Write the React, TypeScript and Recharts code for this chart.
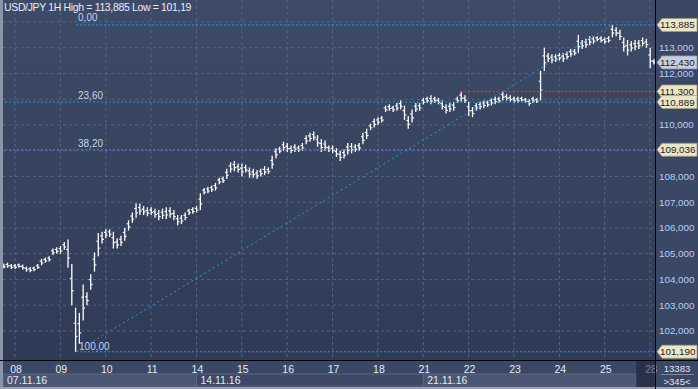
import React from 'react';
import {
  ComposedChart,
  Bar,
  XAxis,
  YAxis,
  CartesianGrid,
  ReferenceLine,
} from 'recharts';

// USD/JPY 1H, 2-hour buckets, low / high
// first three bars are the evening of 07.11, then 12 bars a day
const lows = [
  104.42, 104.45, 104.40,
  // 08
  104.40, 104.45, 104.38, 104.30, 104.28, 104.32, 104.40, 104.55, 104.65, 104.70, 104.95, 105.00,
  // 09
  105.00, 105.15, 104.45, 103.00, 101.19, 101.50, 102.40, 103.00, 103.60, 104.30, 104.90, 105.40,
  // 10
  105.60, 105.65, 105.20, 105.20, 105.30, 105.50, 105.90, 106.20, 106.40, 106.50, 106.50, 106.45,
  // 11
  106.50, 106.40, 106.30, 106.35, 106.35, 106.40, 106.30, 106.10, 106.15, 106.30, 106.50, 106.55,
  // 14
  106.60, 106.70, 107.30, 107.35, 107.40, 107.45, 107.70, 107.75, 107.90, 108.15, 108.20, 108.15,
  // 15
  108.00, 108.15, 107.95, 107.95, 107.90, 108.00, 108.05, 108.10, 108.30, 108.70, 108.90, 109.00,
  // 16
  108.95, 108.90, 108.95, 108.95, 109.00, 109.25, 109.35, 109.40, 109.15, 108.95, 109.00, 108.95,
  // 17
  108.90, 108.75, 108.60, 108.70, 108.85, 108.90, 108.95, 109.00, 109.25, 109.45, 109.80, 109.90,
  // 18
  110.00, 110.10, 110.50, 110.55, 110.50, 110.55, 110.60, 110.20, 109.85, 110.10, 110.50, 110.55,
  // 21
  110.80, 110.85, 110.80, 110.85, 110.80, 110.60, 110.45, 110.50, 110.55, 110.85, 110.90, 110.85,
  // 22
  110.35, 110.30, 110.55, 110.60, 110.65, 110.70, 110.75, 110.80, 110.85, 110.95, 110.95, 110.90,
  // 23
  110.85, 110.85, 110.90, 110.85, 110.75, 110.85, 110.85, 110.95, 112.10, 112.45, 112.40, 112.45,
  // 24
  112.50, 112.45, 112.55, 112.65, 112.70, 112.80, 112.95, 113.00, 113.10, 113.15, 113.25, 113.20,
  // 25
  113.15, 113.20, 113.40, 113.45, 113.30, 112.85, 112.70, 112.85, 112.90, 112.95, 113.05, 113.00,
  // 28
  112.20, 112.35,
];

const highs = [
  104.62, 104.65, 104.60,
  // 08
  104.60, 104.62, 104.58, 104.50, 104.48, 104.50, 104.60, 104.80, 104.85, 104.90, 105.20, 105.25,
  // 09
  105.30, 105.45, 105.55, 104.60, 102.90, 102.70, 103.80, 103.50, 104.20, 105.05, 105.80, 105.85,
  // 10
  105.95, 105.95, 105.85, 105.60, 105.70, 106.00, 106.30, 106.60, 106.95, 106.95, 106.85, 106.80,
  // 11
  106.80, 106.75, 106.70, 106.75, 106.80, 106.80, 106.70, 106.50, 106.50, 106.60, 106.75, 106.80,
  // 14
  106.85, 107.35, 107.55, 107.60, 107.65, 107.75, 107.95, 108.00, 108.30, 108.55, 108.60, 108.50,
  // 15
  108.50, 108.45, 108.35, 108.30, 108.25, 108.30, 108.40, 108.35, 108.80, 109.10, 109.15, 109.35,
  // 16
  109.30, 109.20, 109.25, 109.20, 109.30, 109.60, 109.70, 109.75, 109.60, 109.45, 109.40, 109.20,
  // 17
  109.20, 109.10, 109.00, 109.05, 109.30, 109.30, 109.25, 109.30, 109.70, 109.85, 110.05, 110.25,
  // 18
  110.30, 110.35, 110.75, 110.80, 110.75, 110.85, 110.95, 110.75, 110.35, 110.60, 110.85, 110.85,
  // 21
  111.05, 111.10, 111.15, 111.10, 111.05, 110.95, 110.80, 110.85, 110.90, 111.10, 111.30, 111.15,
  // 22
  110.90, 110.70, 110.85, 110.90, 110.95, 110.95, 111.05, 111.10, 111.10, 111.30, 111.20, 111.15,
  // 23
  111.10, 111.10, 111.10, 111.05, 111.00, 111.10, 111.05, 112.10, 113.00, 112.80, 112.75, 112.75,
  // 24
  112.80, 112.80, 112.85, 112.95, 112.95, 113.50, 113.30, 113.35, 113.45, 113.45, 113.45, 113.45,
  // 25
  113.40, 113.45, 113.885, 113.80, 113.70, 113.40, 113.30, 113.25, 113.30, 113.30, 113.40, 113.35,
  // 28
  113.00, 112.55,
];

// trading hours counted from the 08 day tick (weekends skipped)
const hours = lows.map((_, i) => -6 + i * 2);

const dayTicks = [0, 24, 48, 72, 96, 120, 144, 168, 192, 216, 240, 264, 288, 312, 336];
const dayLabels = ['08', '09', '10', '11', '14', '15', '16', '17', '18', '21', '22', '23', '24', '25', '28'];

const weeks = [
  { start: -6.35, end: 96, label: '07.11.16', fill: '#4a5673' },
  { start: 96, end: 216, label: '14.11.16', fill: '#3c4865' },
  { start: 216, end: 328.6, label: '21.11.16', fill: '#4a5673' },
];

const priceTicks = [102, 103, 104, 105, 106, 107, 108, 110, 112, 113];
const gridPrices = [102, 103, 104, 105, 106, 107, 108, 109, 110, 111, 112, 113, 114];

const high = 113.885;
const low = 101.19;
const last = 112.43;
const redLevel = 111.3;
const fib236 = 110.889;
const fib382 = 109.036;
const tagValues = [high, last, redLevel, fib236, fib382, low];

const fibStartHour = 32.3;
const peakHour = 315.8;
const redStartHour = 235.8;

const X_DOMAIN = [-6.35, 338.6];
const Y_DOMAIN = [100.87, 114.854];
const PLOT_LEFT = 3;
const PLOT_RIGHT = 655;
const PLOT_BOTTOM = 360;
const PX_PER_HOUR = (PLOT_RIGHT - PLOT_LEFT) / (X_DOMAIN[1] - X_DOMAIN[0]);

const FONT = '"Liberation Sans", Arial, sans-serif';
const FIB_BLUE = '#1f9be0';

const data = hours.map((h, i) => ({ h, range: [lows[i], highs[i]] }));

function fmt(v: number) {
  return v.toFixed(3).replace('.', ',');
}

function OhlcShape(props: any) {
  const { x, y, width, height } = props;
  if (x == null || y == null) return null;
  const cx = x + width / 2;
  const h = Math.max(height, 2);
  return (
    <g>
      <line x1={cx} x2={cx} y1={y} y2={y + h} stroke="#ffffff" strokeWidth={1.3} />
      <line x1={cx - 1.9} x2={cx} y1={y + h * 0.35} y2={y + h * 0.35} stroke="#ffffff" strokeWidth={1.1} />
      <line x1={cx} x2={cx + 1.9} y1={y + h * 0.65} y2={y + h * 0.65} stroke="#ffffff" strokeWidth={1.1} />
    </g>
  );
}

function DayTick(props: any) {
  const { x, payload } = props;
  const v = payload.value;
  const week = weeks.find((w) => w.start === v);
  const idx = dayTicks.indexOf(v);
  return (
    <g>
      {week && (
        <g>
          <rect
            x={x}
            y={PLOT_BOTTOM + 14}
            width={(week.end - week.start) * PX_PER_HOUR}
            height={12}
            fill={week.fill}
            stroke="#5a6784"
            strokeWidth={1}
          />
          <text x={x + 4} y={PLOT_BOTTOM + 24} fill="#e4eaf4" fontSize={10.5} fontFamily={FONT}>
            {week.label}
          </text>
        </g>
      )}
      {idx >= 0 && (
        <text x={x + 1} y={PLOT_BOTTOM + 12.5} fill="#e4eaf4" fontSize={10.5} fontFamily={FONT} textAnchor="middle">
          {dayLabels[idx]}
        </text>
      )}
    </g>
  );
}

function PriceTick(props: any) {
  const { y, payload } = props;
  const v = payload.value;
  if (tagValues.includes(v)) {
    const isLast = v === last;
    return (
      <g>
        <polygon
          points={`${PLOT_RIGHT + 2},${y} ${PLOT_RIGHT + 7},${y - 6.5} ${PLOT_RIGHT + 42},${y - 6.5} ${PLOT_RIGHT + 42},${y + 6.5} ${PLOT_RIGHT + 7},${y + 6.5}`}
          fill={isLast ? '#c6cddd' : '#ebe6c6'}
          stroke={isLast ? '#8e97ab' : '#a09c80'}
          strokeWidth={0.8}
        />
        <text x={PLOT_RIGHT + 5} y={y + 3.5} fill="#1c1c1c" fontSize={9.8} fontFamily={FONT}>
          {fmt(v)}
        </text>
      </g>
    );
  }
  return (
    <text x={PLOT_RIGHT + 4} y={y + 3.5} fill="#b6d0f0" fontSize={9.8} fontFamily={FONT}>
      {fmt(v)}
    </text>
  );
}

function FibLabel(props: any) {
  const { viewBox, text, dx, dy } = props;
  if (!viewBox) return null;
  return (
    <text x={viewBox.x + dx} y={viewBox.y + dy} fill="#c2d4ee" fontSize={10} fontFamily={FONT}>
      {text}
    </text>
  );
}

export default function App() {
  return (
    <div style={{ position: 'absolute', left: 0, top: 0, width: 698, height: 389, background: '#3a4765', overflow: 'hidden' }}>
      <ComposedChart width={698} height={389} data={data} margin={{ top: 0, right: 0, bottom: 0, left: PLOT_LEFT }}>
        <defs>
          <linearGradient id="plotBg" x1="0" y1="0" x2="0" y2="1">
            <stop offset="0%" stopColor="#3e4b68" />
            <stop offset="100%" stopColor="#2f3b56" />
          </linearGradient>
        </defs>
        <CartesianGrid
          fill="url(#plotBg)"
          fillOpacity={1}
          stroke="#56637f"
          strokeDasharray="3 3"
          horizontalValues={gridPrices}
          verticalValues={dayTicks}
        />
        <XAxis
          dataKey="h"
          type="number"
          domain={X_DOMAIN}
          allowDataOverflow
          ticks={[weeks[0].start, ...dayTicks]}
          interval={0}
          tick={<DayTick />}
          axisLine={false}
          tickLine={false}
          height={29}
        />
        <YAxis
          orientation="right"
          type="number"
          domain={Y_DOMAIN}
          allowDataOverflow
          ticks={[...priceTicks, ...tagValues]}
          interval={0}
          tick={<PriceTick />}
          axisLine={false}
          tickLine={false}
          width={43}
        />
        <ReferenceLine
          y={fib236}
          stroke={FIB_BLUE}
          strokeDasharray="2 2"
          label={<FibLabel text="23,60" dx={75} dy={-3} />}
        />
        <ReferenceLine
          y={fib382}
          stroke={FIB_BLUE}
          strokeDasharray="2 2"
          label={<FibLabel text="38,20" dx={75} dy={-3} />}
        />
        <ReferenceLine
          segment={[{ x: fibStartHour, y: high }, { x: X_DOMAIN[1], y: high }]}
          stroke={FIB_BLUE}
          strokeDasharray="2 2"
          label={<FibLabel text="0,00" dx={2} dy={-3.5} />}
        />
        <ReferenceLine
          segment={[{ x: fibStartHour, y: low }, { x: X_DOMAIN[1], y: low }]}
          stroke={FIB_BLUE}
          strokeDasharray="2 2"
          label={<FibLabel text="100,00" dx={3} dy={-2} />}
        />
        <ReferenceLine
          segment={[{ x: redStartHour, y: redLevel }, { x: X_DOMAIN[1], y: redLevel }]}
          stroke="#cc3444"
          strokeWidth={1.3}
          strokeDasharray="2 2"
        />
        <ReferenceLine
          segment={[{ x: fibStartHour, y: low }, { x: peakHour, y: high }]}
          stroke={FIB_BLUE}
          strokeDasharray="2 3"
        />
        <Bar dataKey="range" barSize={2} shape={<OhlcShape />} isAnimationActive={false} />
      </ComposedChart>

      {/* frame pieces */}
      <div style={{ position: 'absolute', left: 0, top: 0, width: 3, height: 389, background: '#8c95a8' }} />
      <div style={{ position: 'absolute', left: 0, top: 387, width: 698, height: 2, background: '#9aa2b3' }} />
      <div style={{ position: 'absolute', left: PLOT_RIGHT, top: 0, width: 1, height: 389, background: '#000' }} />
      <div style={{ position: 'absolute', left: 0, top: PLOT_BOTTOM, width: 698, height: 1, background: '#000' }} />
      <div style={{ position: 'absolute', left: 636, top: PLOT_BOTTOM + 1, width: 19, height: 26, background: 'rgba(25,33,52,0.55)' }} />

      <div style={{ position: 'absolute', left: 4, top: 1, color: '#e6ecf6', fontSize: 10.5, letterSpacing: -0.35, fontFamily: FONT, whiteSpace: 'nowrap' }}>
        USD/JPY 1H High = 113,885 Low = 101,19
      </div>
      <div style={{ position: 'absolute', left: 656, top: 363, width: 42, textAlign: 'center', color: '#e0e6f0', fontSize: 9.5, fontFamily: FONT }}>
        13383
      </div>
      <div style={{ position: 'absolute', left: 661, top: 374, width: 33, height: 1, background: '#7f889c' }} />
      <div style={{ position: 'absolute', left: 656, top: 376, width: 42, textAlign: 'center', color: '#e0e6f0', fontSize: 9.5, fontFamily: FONT }}>
        &gt;345&lt;
      </div>
    </div>
  );
}
